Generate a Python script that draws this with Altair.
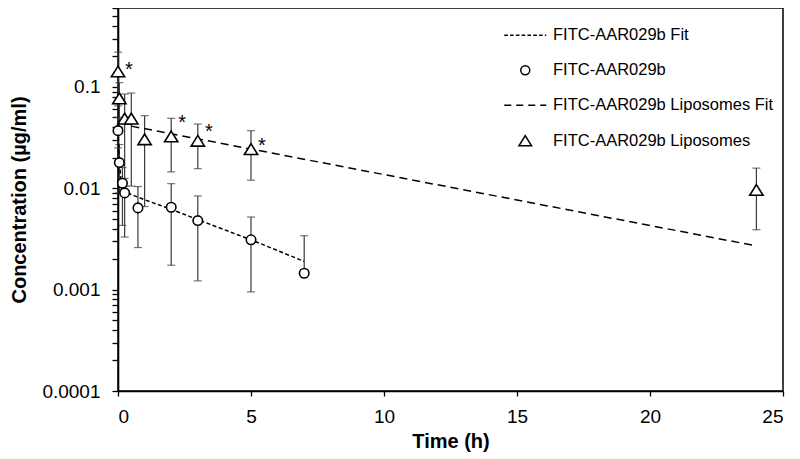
import altair as alt
import pandas as pd

# ---- data ----
series_names = ["FITC-AAR029b Fit", "FITC-AAR029b",
                "FITC-AAR029b Liposomes Fit", "FITC-AAR029b Liposomes"]

free_t = [0, 0.05, 0.167, 0.25, 0.75, 2, 3, 5, 7]
free_v = [0.037, 0.0179, 0.0112, 0.009, 0.0064, 0.0065, 0.0048, 0.0031, 0.00145]
free_hi = [0.05, 0.027, 0.016, 0.0125, 0.0104, 0.0111, 0.0084, 0.0052, 0.0034]
free_lo = [0.025, 0.009, 0.0043, 0.0033, 0.0026, 0.00174, 0.00122, 0.00095, None]

lipo_t = [0, 0.05, 0.25, 0.5, 1, 2, 3, 5, 24]
lipo_v = [0.14, 0.076, 0.048, 0.048, 0.030, 0.032, 0.029, 0.024, 0.0095]
lipo_hi = [0.22, 0.11, 0.085, 0.087, 0.052, 0.049, 0.043, 0.037, 0.0158]
lipo_lo = [0.065, 0.04, 0.0105, 0.0105, 0.0066, 0.0145, 0.0156, 0.012, 0.0039]

free_fit_t = [0, 0.05, 0.1, 0.167, 0.25, 1, 2, 3, 5, 7]
free_fit_v = [0.037, 0.019, 0.013, 0.0105, 0.0092, 0.0077, 0.0062, 0.0049, 0.0031, 0.0019]

lipo_fit_t = [0.5, 24]
lipo_fit_v = [0.041, 0.0027]

star_t = [0, 2, 3, 5]
star_v = [0.165, 0.049, 0.040, 0.029]

x_ticks = [0, 5, 10, 15, 20, 25]
decades = [0.0001, 0.001, 0.01, 0.1]

# ---- tables ----
pts = pd.DataFrame({
    "t": free_t + lipo_t,
    "v": free_v + lipo_v,
    "hi": free_hi + lipo_hi,
    "lo": free_lo + lipo_lo,
    "series": [series_names[1]] * len(free_t) + [series_names[3]] * len(lipo_t),
})
fits = pd.DataFrame({
    "t": free_fit_t + lipo_fit_t,
    "v": free_fit_v + lipo_fit_v,
    "series": [series_names[0]] * len(free_fit_t) + [series_names[2]] * len(lipo_fit_t),
})
stars = pd.DataFrame({"t": star_t, "v": star_v})

FONT = "Liberation Sans"

minor = []
for d in decades:
    for k in range(1, 10):
        val = round(d * k, 6)
        if val <= 0.6:
            minor.append(val)

xs = alt.Scale(domain=[0, 25], nice=False, zero=False)
ys = alt.Scale(type="log", domain=[0.0001, 0.6], nice=False)

X = alt.X("t:Q", scale=xs, title="Time (h)",
          axis=alt.Axis(values=x_ticks, format="d", grid=False, tickSize=5,
                        labelPadding=11, titlePadding=5))
Y = alt.Y("v:Q", scale=ys, title="Concentration (µg/ml)",
          axis=alt.Axis(values=minor, grid=False, tickSize=6, format="~g",
                        labelExpr="indexof([0.0001,0.001,0.01,0.1], datum.value) >= 0 ? datum.label : ''",
                        labelPadding=12, titlePadding=12))

def dash_path(seg, gap, half):
    parts = []
    x = -half
    while x < half - 1e-6:
        x2 = min(x + seg, half)
        parts.append(f"M{x:.3f},0H{x2:.3f}")
        x = x2 + gap
    return "".join(parts)

unit = 4.5  # px per symbol unit for size 81
fine_path = dash_path(3.6 / unit, 2.2 / unit, 21 / unit)
long_path = dash_path(7.0 / unit, 5.0 / unit, 21 / unit)
tri_path = "M0,-1.25L1.4,1.0L-1.4,1.0Z"

shape_scale = alt.Scale(domain=series_names,
                        range=[fine_path, "circle", long_path, tri_path])

bars = alt.Chart(pts).mark_rule(color="#3a3a3a", strokeWidth=1.2).encode(
    x=X, y=alt.Y("hi:Q", scale=ys), y2="v:Q")
bars_lo = alt.Chart(pts).transform_filter("isValid(datum.lo)").mark_rule(
    color="#3a3a3a", strokeWidth=1.2).encode(x=X, y=alt.Y("lo:Q", scale=ys), y2="v:Q")
cap_hi = alt.Chart(pts).mark_tick(orient="horizontal", color="#3a3a3a", size=8,
                                  thickness=1.2).encode(x=X, y=alt.Y("hi:Q", scale=ys))
cap_lo = alt.Chart(pts).transform_filter("isValid(datum.lo)").mark_tick(
    orient="horizontal", color="#3a3a3a", size=8, thickness=1.2).encode(
    x=X, y=alt.Y("lo:Q", scale=ys))

fit_free = alt.Chart(fits).transform_filter(
    alt.datum.series == series_names[0]).mark_line(
    color="black", strokeWidth=1.5, strokeDash=[4, 2.5]).encode(x=X, y=Y)
fit_lipo = alt.Chart(fits).transform_filter(
    alt.datum.series == series_names[2]).mark_line(
    color="black", strokeWidth=1.5, strokeDash=[8, 5]).encode(x=X, y=Y)

points = alt.Chart(pts).mark_point(filled=False, color="black", fill="white",
                                   fillOpacity=1, strokeWidth=1.6, size=90,
                                   opacity=1).encode(
    x=X, y=Y,
    shape=alt.Shape("series:N", scale=shape_scale,
                    legend=alt.Legend(title=None, orient="none", legendX=399,
                                      legendY=19, padding=0, symbolSize=81,
                                      symbolStrokeWidth=1.5, symbolOpacity=1,
                                      labelFont=FONT, labelFontSize=16.5,
                                      labelColor="black", labelOffset=19.5,
                                      rowPadding=18, labelLimit=400)))

star_layer = alt.Chart(stars).mark_text(text="*", dx=11, dy=5, fontSize=20,
                                        font=FONT, color="black").encode(x=X, y=Y)

chart = alt.layer(bars, bars_lo, cap_hi, cap_lo, fit_free, fit_lipo, points,
                  star_layer).properties(
    width=665, height=383,
    background="white",
    autosize=alt.AutoSizeParams(type="none"),
    padding={"left": 110, "top": 0, "right": 5, "bottom": 67},
).configure_view(stroke="black", strokeWidth=1.5).configure_axis(
    domainColor="black", domainWidth=1.6, tickColor="black", tickWidth=1.3,
    labelFont=FONT, labelFontSize=19, labelColor="black",
    titleFont=FONT, titleFontSize=20, titleFontWeight="bold", titleColor="black",
)

chart.save("out.html", embed_options={"renderer": "svg", "actions": False})
